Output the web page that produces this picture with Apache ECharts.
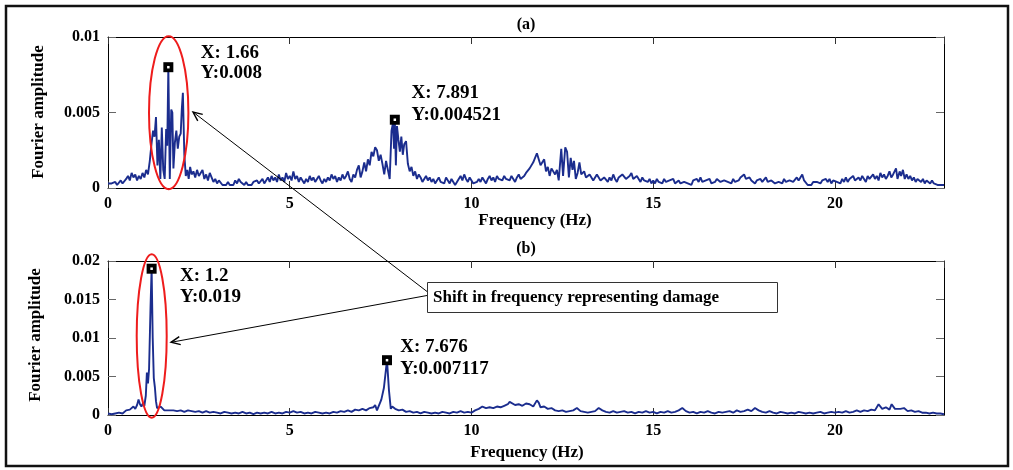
<!DOCTYPE html>
<html>
<head>
<meta charset="utf-8">
<script src="https://cdn.jsdelivr.net/npm/echarts@6/dist/echarts.min.js"></script>
<style>
  html, body { margin: 0; padding: 0; background: #fff; }
  #c { width: 1013px; height: 470px; }
</style>
</head>
<body>
<div id="c"></div>
<script>
// Fourier amplitude spectra: (a) reference state, (b) damaged state. [frequency Hz, amplitude]
const spectrumA = [
  [0,.0003],[.05,.0002],[.1,.0003],[.15,.0002],[.2,.0004],[.25,.0002],[.3,.0003],[.35,.0005],[.4,.0003],[.45,.0002],
  [.5,.0006],[.55,.0008],[.6,.0005],[.65,.001],[.7,.0007],[.75,.0009],[.8,.0005],[.85,.0008],[.9,.0006],[.95,.001],
  [1,.0007],[1.05,.0012],[1.1,.0009],[1.15,.0018],[1.2,.003],[1.24,.0038],[1.28,.0034],[1.32,.0047],[1.36,.0015],[1.4,.0032],
  [1.44,.0006],[1.48,.004],[1.52,.0012],[1.56,.0006],[1.6,.0039],[1.63,.0028],[1.66,.008],[1.7,.0006],[1.74,.0052],[1.77,.005],
  [1.8,.0013],[1.84,.003],[1.88,.0038],[1.92,.0026],[1.96,.0034],[2,.0036],[2.03,.0052],[2.06,.0063],[2.1,.0022],[2.14,.0008],
  [2.18,.0012],[2.22,.0006],[2.26,.0014],[2.3,.0009],[2.35,.0011],[2.4,.0007],[2.45,.0012],[2.5,.0008],[2.55,.001],[2.6,.0012],
  [2.65,.0006],[2.7,.0009],[2.75,.0005],[2.8,.001],[2.85,.0007],[2.9,.0004],[2.95,.0006],[3,.0003],[3.05,.0005],[3.1,.0004],
  [3.15,.0002],[3.2,.0003],[3.25,.0002],[3.3,.0004],[3.35,.0002],[3.4,.0003],[3.45,.0002],[3.5,.0005],[3.55,.0003],[3.6,.0006],
  [3.65,.0004],[3.7,.0003],[3.75,.0002],[3.8,.0004],[3.85,.0002],[3.9,.0003],[3.95,.0002],[4,.0004],[4.05,.0003],[4.1,.0005],
  [4.15,.0003],[4.2,.0004],[4.25,.0006],[4.3,.0003],[4.35,.0005],[4.4,.0007],[4.45,.0004],[4.5,.0008],[4.55,.0005],[4.6,.0007],
  [4.65,.0004],[4.7,.0009],[4.75,.0005],[4.8,.0007],[4.85,.0004],[4.9,.001],[4.95,.0006],[5,.0008],[5.05,.0005],[5.1,.0011],
  [5.15,.0006],[5.2,.0008],[5.25,.0004],[5.3,.0007],[5.35,.0005],[5.4,.0003],[5.45,.0006],[5.5,.0004],[5.55,.0008],[5.6,.0005],
  [5.65,.0007],[5.7,.0004],[5.75,.0006],[5.8,.0008],[5.85,.0005],[5.9,.0003],[5.95,.0006],[6,.0004],[6.05,.0007],[6.1,.0005],
  [6.15,.0009],[6.2,.0006],[6.25,.0008],[6.3,.0004],[6.35,.0007],[6.4,.0005],[6.45,.0009],[6.5,.0006],[6.55,.0008],[6.6,.0011],
  [6.65,.0006],[6.7,.0004],[6.75,.0009],[6.8,.0007],[6.85,.0012],[6.9,.0015],[6.95,.0007],[7,.0011],
  [7.05,.0017],[7.1,.0011],[7.15,.0019],[7.2,.0015],[7.25,.0024],[7.3,.0021],[7.35,.0027],[7.4,.0025],[7.45,.0018],[7.5,.0022],
  [7.55,.0016],[7.6,.0009],[7.65,.0018],[7.7,.0012],[7.75,.0006],[7.8,.0038],[7.84,.0043],[7.87,.0026],[7.891,.004521],[7.92,.0015],
  [7.95,.0041],[7.99,.0032],[8.03,.0024],[8.07,.0034],[8.11,.0022],[8.15,.0029],[8.2,.0031],[8.25,.0016],[8.3,.0011],[8.35,.0014],
  [8.4,.0008],[8.45,.0011],[8.5,.0006],[8.55,.0009],[8.6,.0007],[8.65,.0004],[8.7,.0006],[8.75,.0008],[8.8,.0005],[8.85,.0007],
  [8.9,.0004],[8.95,.0006],[9,.0003],[9.05,.0005],[9.1,.0007],[9.15,.0004],[9.2,.0005],[9.25,.0003],[9.3,.0007],[9.35,.0005],
  [9.4,.0003],[9.45,.0006],[9.5,.0004],[9.55,.0002],[9.6,.0004],[9.65,.0006],[9.7,.0008],[9.75,.0005],[9.8,.0009],[9.85,.0006],
  [9.9,.0004],[9.95,.0007],[10,.0005],[10.05,.0003],[10.1,.0002],[10.15,.0004],[10.2,.0006],[10.25,.0004],[10.3,.0007],[10.35,.0005],
  [10.4,.0003],[10.45,.0006],[10.5,.0008],[10.55,.0005],[10.6,.0007],[10.65,.0004],[10.7,.0008],[10.75,.0006],[10.8,.0007],[10.85,.0005],
  [10.9,.0008],[10.95,.0006],[11,.0007],[11.05,.0005],[11.1,.0008],[11.15,.0006],[11.2,.0004],[11.25,.0007],[11.3,.0009],[11.35,.0006],
  [11.4,.0005],[11.45,.0008],[11.5,.001],[11.6,.0013],[11.7,.0017],[11.8,.0023],[11.85,.0024],[11.9,.0015],[12,.0019],[12.05,.0011],
  [12.1,.0014],[12.15,.0008],[12.2,.0013],[12.3,.0009],[12.35,.0012],[12.4,.0005],[12.47,.0026],[12.52,.0008],[12.58,.0027],[12.63,.0024],
  [12.68,.0007],[12.73,.002],[12.78,.0012],[12.82,.0018],[12.87,.0006],[12.92,.001],[12.97,.0017],[13.02,.0009],[13.1,.0011],[13.15,.0007],
  [13.2,.0006],[13.25,.0009],[13.3,.0008],[13.35,.0005],[13.4,.0006],[13.45,.0009],[13.5,.0007],[13.55,.0005],[13.6,.0004],[13.65,.0007],
  [13.7,.0006],[13.75,.0004],[13.8,.0007],[13.85,.0005],[13.9,.0009],[13.95,.0006],[14,.0004],[14.05,.0007],[14.1,.0006],[14.15,.0009],
  [14.2,.001],[14.25,.0006],[14.3,.0005],[14.35,.0008],[14.4,.001],[14.45,.0006],[14.5,.0005],[14.55,.0008],[14.6,.0006],[14.65,.0004],
  [14.7,.0007],[14.75,.0005],[14.8,.0006],[14.85,.0004],[14.9,.0006],[14.95,.0003],[15,.0005],[15.05,.0003],[15.1,.0006],[15.15,.0004],
  [15.2,.0005],[15.25,.0003],[15.3,.0006],[15.35,.0004],[15.4,.0003],[15.45,.0005],[15.5,.0004],[15.55,.0006],[15.6,.0003],[15.65,.0004],
  [15.7,.0005],[15.75,.0003],[15.8,.0002],[15.85,.0004],[15.9,.0005],[15.95,.0003],[16,.0004],[16.05,.0002],[16.1,.0005],[16.15,.0004],
  [16.2,.0006],[16.25,.0004],[16.3,.0007],[16.35,.0004],[16.4,.0003],[16.45,.0005],[16.5,.0004],[16.55,.0006],[16.6,.0003],[16.65,.0002],
  [16.7,.0004],[16.75,.0006],[16.8,.0007],[16.85,.0004],[16.9,.0003],[16.95,.0005],[17,.0006],[17.05,.0004],[17.1,.0005],[17.15,.0003],
  [17.2,.0006],[17.25,.0004],[17.3,.0003],[17.35,.0005],[17.4,.0007],[17.45,.0006],[17.5,.0009],[17.55,.0006],[17.6,.0005],[17.65,.0007],
  [17.7,.0005],[17.75,.0004],[17.8,.0003],[17.85,.0005],[17.9,.0004],[17.95,.0006],[18,.0004],[18.05,.0005],[18.1,.0007],[18.15,.0004],
  [18.2,.0003],[18.25,.0005],[18.3,.0004],[18.35,.0003],[18.4,.0002],[18.45,.0004],[18.5,.0005],[18.55,.0003],[18.6,.0006],[18.65,.0004],
  [18.7,.0003],[18.75,.0005],[18.8,.0006],[18.85,.0004],[18.9,.0005],[18.95,.0007],[19,.0005],[19.05,.0007],[19.1,.0009],[19.15,.0005],
  [19.2,.0004],[19.25,.0002],[19.3,.0003],[19.35,.0002],[19.4,.0004],[19.45,.0003],[19.5,.0004],[19.55,.0005],[19.6,.0003],[19.65,.0005],
  [19.7,.0004],[19.75,.0006],[19.8,.0004],[19.85,.0006],[19.9,.0003],[19.95,.0005],[20,.0006],[20.05,.0004],[20.1,.0005],[20.15,.0003],
  [20.2,.0006],[20.25,.0004],[20.3,.0007],[20.35,.0004],[20.4,.0006],[20.45,.0005],[20.5,.0008],[20.55,.0005],[20.6,.0004],[20.65,.0007],
  [20.7,.0005],[20.75,.0008],[20.8,.0006],[20.85,.0004],[20.9,.0008],[20.95,.0006],[21,.0005],[21.05,.0009],[21.1,.0006],[21.15,.0008],
  [21.2,.0005],[21.25,.001],[21.3,.0007],[21.35,.0009],[21.4,.0006],[21.45,.0008],[21.5,.0011],[21.55,.0007],[21.6,.0009],[21.68,.0013],
  [21.72,.0006],[21.78,.0011],[21.82,.0008],[21.87,.0012],[21.92,.0006],[21.97,.0009],[22.02,.0006],[22.07,.0008],[22.12,.0005],[22.17,.0007],
  [22.22,.0004],[22.27,.0006],[22.32,.0005],[22.37,.0004],[22.42,.0006],[22.47,.0003],[22.52,.0005],[22.57,.0004],[22.62,.0003],[22.67,.0005],
  [22.72,.0003],[22.77,.0004],[22.82,.0002],[22.87,.0003],[22.92,.0002],[22.97,.0003],[23,.0002]
];

const spectrumB = [
  [0,.0002],[.1,.0001],[.2,.0002],[.3,.0003],[.4,.0002],[.45,.0004],[.5,.0006],[.55,.0004],[.6,.0007],[.65,.0005],
  [.7,.0011],[.75,.0008],[.8,.0013],[.84,.002],[.88,.0014],[.92,.0011],[.96,.0015],[1,.0012],[1.04,.0025],[1.07,.0055],
  [1.1,.0041],[1.13,.006],[1.17,.014],[1.2,.019],[1.23,.01],[1.26,.0048],[1.29,.0036],[1.32,.0018],[1.35,.0009],[1.4,.0007],
  [1.45,.0011],[1.5,.0009],[1.55,.0006],[1.6,.0008],[1.65,.0006],[1.7,.0007],[1.8,.0006],[1.85,.0007],[1.9,.0005],[2,.0006],
  [2.1,.0004],[2.2,.0006],[2.3,.0005],[2.4,.0004],[2.5,.0005],[2.6,.0003],[2.7,.0005],[2.8,.0003],[2.9,.0004],[3,.0003],
  [3.1,.0002],[3.2,.0004],[3.3,.0003],[3.4,.0002],[3.5,.0003],[3.6,.0002],[3.7,.0004],[3.8,.0002],[3.9,.0003],[4,.0001],
  [4.1,.0003],[4.2,.0002],[4.3,.0003],[4.4,.0002],[4.5,.0004],[4.6,.0002],[4.7,.0003],[4.8,.0002],[4.9,.0004],[5,.0003],
  [5.1,.0005],[5.2,.0003],[5.3,.0004],[5.4,.0002],[5.5,.0003],[5.6,.0002],[5.7,.0004],[5.8,.0003],[5.9,.0002],[6,.0003],
  [6.1,.0002],[6.2,.0004],[6.3,.0003],[6.4,.0005],[6.5,.0004],[6.6,.0006],[6.7,.0004],[6.8,.0007],[6.9,.0006],[7,.0008],
  [7.1,.0006],[7.2,.0009],[7.25,.0007],[7.3,.001],[7.35,.0013],[7.4,.0006],[7.45,.0008],[7.52,.002],[7.59,.0035],[7.676,.007117],
  [7.73,.0032],[7.78,.0008],[7.82,.0011],[7.86,.0013],[7.9,.0008],[7.95,.001],[8,.0006],[8.1,.0007],[8.2,.0004],[8.3,.0005],
  [8.4,.0003],[8.5,.0004],[8.6,.0002],[8.7,.0004],[8.8,.0003],[8.9,.0002],[9,.0003],[9.1,.0002],[9.2,.0004],[9.3,.0003],
  [9.4,.0002],[9.5,.0004],[9.6,.0003],[9.7,.0005],[9.8,.0003],[9.9,.0004],[10,.0003],[10.1,.0006],[10.2,.0008],[10.3,.0011],
  [10.4,.0009],[10.5,.001],[10.6,.0009],[10.7,.0011],[10.8,.001],[10.9,.0012],[11,.0014],[11.05,.0017],[11.1,.0015],[11.2,.0013],
  [11.3,.0014],[11.4,.0012],[11.5,.0015],[11.55,.0013],[11.6,.0014],[11.7,.0011],[11.8,.0019],[11.85,.0016],[11.9,.001],[12,.0011],
  [12.1,.0008],[12.2,.0009],[12.3,.0006],[12.4,.0005],[12.5,.0006],[12.6,.0004],[12.7,.0005],[12.8,.0006],[12.9,.0009],[13,.0005],
  [13.1,.0004],[13.2,.0003],[13.3,.0004],[13.4,.0005],[13.5,.0009],[13.6,.0006],[13.7,.0004],[13.8,.0003],[13.9,.0005],[14,.0003],
  [14.1,.0004],[14.2,.0005],[14.3,.0003],[14.4,.0004],[14.5,.0002],[14.6,.0004],[14.7,.0003],[14.8,.0005],[14.9,.0003],[15,.0004],
  [15.1,.0002],[15.2,.0004],[15.3,.0003],[15.4,.0005],[15.5,.0003],[15.6,.0004],[15.7,.0006],[15.8,.0009],[15.9,.0005],[16,.0003],
  [16.1,.0004],[16.2,.0002],[16.3,.0004],[16.4,.0003],[16.5,.0005],[16.6,.0003],[16.7,.0002],[16.8,.0004],[16.9,.0003],[17,.0004],
  [17.1,.0005],[17.2,.0003],[17.3,.0006],[17.4,.0004],[17.5,.0005],[17.6,.0007],[17.7,.0005],[17.8,.0009],[17.9,.0006],[18,.0004],
  [18.1,.0003],[18.2,.0005],[18.3,.0003],[18.4,.0002],[18.5,.0004],[18.6,.0003],[18.7,.0002],[18.8,.0003],[18.9,.0002],[19,.0004],
  [19.1,.0003],[19.2,.0002],[19.3,.0003],[19.4,.0002],[19.5,.0003],[19.6,.0004],[19.7,.0002],[19.8,.0003],[19.9,.0004],[20,.0003],
  [20.1,.0004],[20.2,.0003],[20.3,.0005],[20.4,.0003],[20.5,.0004],[20.6,.0006],[20.7,.0004],[20.8,.0006],[20.9,.0005],[21,.0007],
  [21.1,.0006],[21.2,.0014],[21.3,.0008],[21.4,.001],[21.5,.0007],[21.56,.0014],[21.65,.0008],[21.7,.0006],[21.8,.0008],[21.9,.0009],
  [22,.0005],[22.1,.0006],[22.2,.0004],[22.3,.0005],[22.4,.0003],[22.5,.0003],[22.6,.0002],[22.7,.0003],[22.8,.0002],[22.9,.0002],[23,.0001]
];

// Data-cursor readouts on the dominant peaks
const peaksA = [[1.66, 0.008], [7.891, 0.004521]];
const peaksB = [[1.2, 0.019], [7.676, 0.007117]];

const panelTitles = ['(a)', '(b)'];
const xAxisTitle = 'Frequency (Hz)';
const yAxisTitle = 'Fourier amplitude';
const noteText = 'Shift in frequency representing damage';

const FONT = '"Liberation Serif", "Times New Roman", serif';
const LINE_COLOR = '#1b2d8e';

// Readout text placement relative to each marker: [dx, dy, lineHeight]
const readoutPlacementA = [[27.5, -4, 20], [11.7, -15.5, 22]];
const readoutPlacementB = [[23.3, 17.8, 21.5], [8.3, -2, 22]];

const grids = [
  { left: 108, top: 37, width: 836, height: 151 },
  { left: 108, top: 261, width: 836, height: 154 }
];

function xAxes(gi) {
  const base = {
    gridIndex: gi, type: 'value', min: 0, max: 23, interval: 5,
    axisLine: { onZero: false, lineStyle: { color: '#000', width: 1 } },
    axisTick: { inside: true, length: 7, lineStyle: { color: '#333' } },
    splitLine: { show: false }
  };
  return [
    Object.assign({}, base, {
      position: 'bottom',
      axisLabel: { show: true, margin: 8, showMaxLabel: false, color: '#000', fontFamily: FONT, fontWeight: 'bold', fontSize: 16 }
    }),
    Object.assign({}, base, { position: 'top', axisLabel: { show: false } })
  ];
}

function yAxes(gi, max) {
  const base = {
    gridIndex: gi, type: 'value', min: 0, max: max, interval: 0.005,
    axisLine: { show: true, onZero: false, lineStyle: { color: '#000', width: 1 } },
    axisTick: { show: true, inside: true, length: 8, lineStyle: { color: '#666' } },
    splitLine: { show: false }
  };
  return [
    Object.assign({}, base, {
      position: 'left',
      axisLabel: { show: true, margin: 8, color: '#000', fontFamily: FONT, fontWeight: 'bold', fontSize: 16 }
    }),
    Object.assign({}, base, { position: 'right', axisLabel: { show: false } })
  ];
}

function peakSeries(peaks, placement, xi, yi) {
  return [
    {
      type: 'scatter', xAxisIndex: xi, yAxisIndex: yi, z: 5,
      symbol: 'rect', symbolSize: 10, itemStyle: { color: '#000', opacity: 1 },
      silent: true,
      data: peaks.map((p, i) => ({
        value: p,
        label: {
          show: true, position: 'right', distance: 0,
          offset: [placement[i][0], placement[i][1]],
          align: 'left', verticalAlign: 'middle',
          lineHeight: placement[i][2], opacity: 1,
          color: '#000', fontFamily: FONT, fontWeight: 'bold', fontSize: 19,
          formatter: () => 'X: ' + p[0] + '\nY:' + p[1]
        }
      }))
    },
    {
      type: 'scatter', xAxisIndex: xi, yAxisIndex: yi, z: 6,
      symbol: 'rect', symbolSize: 2.5, itemStyle: { color: '#fff', opacity: 1 },
      silent: true, data: peaks
    }
  ];
}

function lineSeries(data, xi, yi) {
  return {
    type: 'line', xAxisIndex: xi, yAxisIndex: yi, data: data,
    showSymbol: false, symbol: 'none', clip: true, z: 3,
    lineStyle: { color: LINE_COLOR, width: 1.9 }
  };
}

// Open "V" arrowhead at (tx, ty) pointing away from (fx, fy)
function arrow(fx, fy, tx, ty) {
  const a = Math.atan2(fy - ty, fx - tx), L = 10, w = 0.42;
  const p1 = [tx + L * Math.cos(a + w), ty + L * Math.sin(a + w)];
  const p2 = [tx + L * Math.cos(a - w), ty + L * Math.sin(a - w)];
  const st = { stroke: '#000', lineWidth: 1, fill: null };
  return [
    { type: 'line', z: 20, shape: { x1: fx, y1: fy, x2: tx, y2: ty }, style: st },
    { type: 'polyline', z: 20, shape: { points: [p1, [tx, ty], p2] }, style: { stroke: '#000', lineWidth: 1.4, fill: null } }
  ];
}

function label(text, x, y, size, rot) {
  return {
    type: 'text', x: x, y: y, z: 20, rotation: rot || 0,
    style: {
      text: text, fill: '#000', font: 'bold ' + size + 'px ' + FONT,
      textAlign: 'center', textVerticalAlign: 'middle'
    }
  };
}

const chart = echarts.init(document.getElementById('c'), null, { renderer: 'canvas' });

const graphics = [
  { type: 'rect', z: 1, shape: { x: 6, y: 6, width: 1002, height: 460 }, style: { fill: null, stroke: '#111', lineWidth: 2.5 } },
  label(panelTitles[0], 526, 25, 16),
  label(panelTitles[1], 526, 249, 16),
  label(xAxisTitle, 535, 221, 17),
  label(xAxisTitle, 527, 453, 17),
  label(yAxisTitle, 39, 112, 17, Math.PI / 2),
  label(yAxisTitle, 36, 335, 17, Math.PI / 2),
  { type: 'ellipse', z: 15, shape: { cx: 168.7, cy: 112.7, rx: 19.7, ry: 76.5 }, style: { fill: null, stroke: '#ee1c1c', lineWidth: 2 } },
  { type: 'ellipse', z: 15, shape: { cx: 151.7, cy: 336, rx: 15, ry: 81.7 }, style: { fill: null, stroke: '#ee1c1c', lineWidth: 2 } },
  ...arrow(427, 291.5, 193, 112),
  ...arrow(427, 295.5, 171, 342.3),
  { type: 'rect', z: 21, shape: { x: 427.5, y: 282.5, width: 350, height: 30 }, style: { fill: '#fff', stroke: '#333', lineWidth: 1 } },
  {
    type: 'text', z: 22, x: 433, y: 297.5,
    style: { text: noteText, fill: '#000', font: 'bold 17px ' + FONT, textAlign: 'left', textVerticalAlign: 'middle' }
  }
];

chart.setOption({
  animation: false,
  backgroundColor: '#fff',
  grid: grids,
  xAxis: [...xAxes(0), ...xAxes(1)],
  yAxis: [...yAxes(0, 0.01), ...yAxes(1, 0.02)],
  series: [
    lineSeries(spectrumA, 0, 0),
    ...peakSeries(peaksA, readoutPlacementA, 0, 0),
    lineSeries(spectrumB, 2, 2),
    ...peakSeries(peaksB, readoutPlacementB, 2, 2)
  ],
  graphic: graphics
});
</script>
</body>
</html>
